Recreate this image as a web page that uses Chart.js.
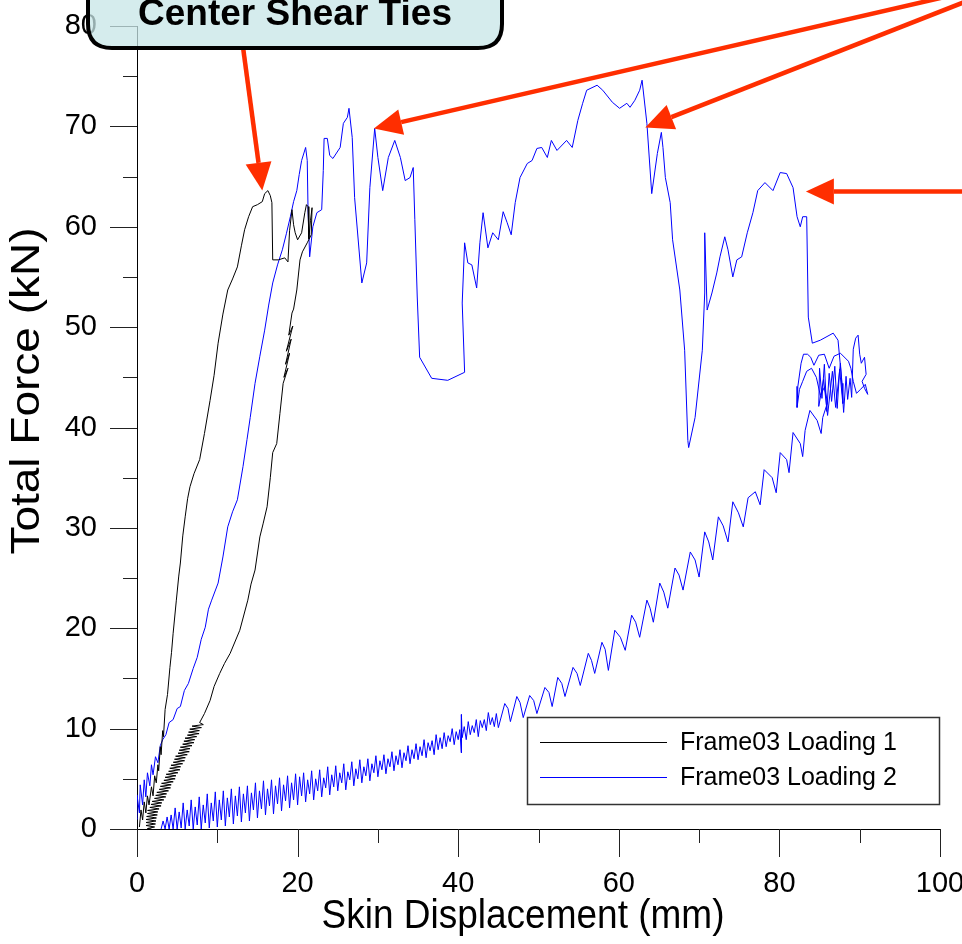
<!DOCTYPE html>
<html>
<head>
<meta charset="utf-8">
<title>Frame03 skin displacement</title>
<script src="https://cdn.jsdelivr.net/npm/chart.js@4.4.1/dist/chart.umd.min.js"></script>
<style>
  html, body { margin: 0; padding: 0; background: #fff; }
  #wrap { width: 962px; height: 944px; }
</style>
</head>
<body>
<div id="wrap"><canvas id="forceChart" width="962" height="944"></canvas></div>
<script>
// displacement (mm), force (kN) pairs in recording order

const loading1 = [
  [0.3,0.2],[0.5,1.9],[0.7,0.9],[0.9,2.7],[1.1,1.6],[1.3,3.3],[1.5,2.4],[1.8,4.2],[2.0,3.3],[2.2,5.3],
  [2.4,4.6],[2.6,6.4],[2.7,5.8],[2.9,8.2],[3.0,7.4],[3.2,9.8],[3.3,9.2],[3.5,11.9],[3.8,13.4],[4.1,16.1],
  [4.3,17.6],[4.5,19.5],[4.9,22.8],[5.2,25.2],[5.4,26.5],[5.7,29.2],[6.0,31.1],[6.3,32.9],[6.6,34.1],[7.1,35.4],
  [7.8,36.8],[8.4,39.4],[9.1,42.7],[9.6,45.2],[10.1,48.4],[10.7,51.3],[11.3,53.7],[11.9,54.8],[12.5,56.0],[13.0,58.1],
  [13.4,59.7],[13.9,61.0],[14.4,62.0],[15.0,62.2],[15.6,62.5],[15.9,63.3],[16.3,63.6],[16.6,63.1],[16.8,62.4],[16.9,56.7],
  [17.6,56.7],[18.4,56.9],[18.8,56.5],[19.0,59.6],[19.3,61.7],[19.5,60.2],[19.7,59.4],[20.0,58.7],[20.5,59.4],[20.9,61.4],
  [21.1,62.2],[21.3,62.0],[21.4,58.8],[21.6,60.6],[21.8,61.9],[21.7,59.2],[21.2,58.4],[20.6,57.5],[20.3,56.7],[19.9,53.7],
  [19.5,51.8],[19.3,51.4],[18.9,49.2],[19.4,50.1],[18.6,47.6],[19.2,48.8],[18.5,46.3],[19.0,47.4],[18.3,45.0],[18.8,45.9],
  [18.2,44.4],[17.8,41.4],[17.4,38.4],[16.9,37.5],[16.6,35.0],[16.2,32.1],[15.7,30.4],[15.3,29.1],[14.7,25.8],[14.2,24.4],
  [13.8,22.8],[12.8,19.8],[11.6,17.5],[10.9,16.5],[10.3,15.5],[9.6,14.2],[9.1,12.8],[8.4,11.5],[7.8,10.6],
  [8.26,10.40],[6.86,10.25],[8.02,10.10],[6.57,9.95],[7.77,9.80],[6.42,9.65],[7.73,9.50],[6.28,9.35],[7.43,9.20],[5.98,9.05],
  [7.19,8.90],[5.84,8.75],[7.09,8.60],[5.69,8.45],[6.85,8.30],[5.40,8.15],[6.60,8.00],[5.25,7.85],[6.51,7.70],[5.11,7.55],
  [6.26,7.40],[4.81,7.25],[6.02,7.10],[4.67,6.95],[5.92,6.80],[4.52,6.65],[5.68,6.50],[4.23,6.35],[5.43,6.20],[4.08,6.05],
  [5.34,5.90],[3.94,5.75],[5.09,5.60],[3.64,5.45],[4.85,5.30],[3.50,5.15],[4.75,5.00],[3.35,4.85],[4.51,4.70],[3.06,4.55],
  [4.26,4.40],[2.91,4.25],[4.17,4.10],[2.77,3.95],[3.92,3.80],[2.47,3.65],[3.68,3.50],[2.33,3.35],[3.58,3.20],[2.18,3.05],
  [3.34,2.90],[1.89,2.75],[3.09,2.60],[1.74,2.45],[3.00,2.30],[1.60,2.15],[2.75,2.00],[1.32,1.85],[2.59,1.70],[1.31,1.55],
  [2.53,1.40],[1.20,1.25],[2.42,1.10],[1.14,0.95],[2.36,0.80],[1.13,0.65],[2.30,0.50],[1.12,0.35],[2.19,0.20],[1.30,0.05],
  [1.80,0.00]
];

const loading2Rise = [
  [0.1,1.0],[0.0,3.4],[0.3,1.6],[0.4,4.4],[0.7,2.4],[0.9,4.9],[1.1,3.2],[1.3,5.6],[1.6,4.3],[1.8,6.4],
  [2.0,5.4],[2.3,7.2],[2.6,6.6],[2.9,8.3],[3.2,8.9],[3.6,9.4],[4.0,10.6],[4.5,10.9],[5.0,12.0],[5.4,12.2],
  [5.9,13.8],[6.4,14.5],[7.0,16.0],[7.5,17.1],[8.0,18.9],[8.5,20.1],[8.9,21.9],[9.3,22.8],[10.1,24.5],[10.7,27.1],
  [11.3,30.1],[11.9,31.6],[12.5,32.8],[13.2,36.1],[13.7,38.8],[14.1,41.0],[14.7,44.4],[15.3,47.1],[15.9,49.7],[16.4,52.2],
  [16.9,54.4],[17.5,56.2],[18.1,57.7],[18.6,59.3],[19.1,61.0],[19.5,62.5],[19.9,63.6],[20.2,65.2],[20.5,66.6],[21.0,67.9],
  [21.2,66.6],[21.3,61.7],[21.5,57.0]
];

const loading2Peaks = [
  [21.9,60.0],[22.4,61.4],[23.0,61.7],[23.2,65.6],[23.3,68.8],[23.7,68.8],[24.0,67.1],[24.4,66.8],[25.3,67.9],[25.7,70.3],
  [26.2,70.9],[26.4,71.8],[26.8,68.9],[27.1,62.9],[28.0,54.4],[28.6,56.4],[29.0,63.9],[29.6,69.8],[30.0,66.9],[30.6,63.6],
  [31.3,66.9],[32.1,68.6],[32.8,66.9],[33.4,64.6],[34.0,64.9],[34.4,65.9],[34.6,60.7],[34.9,53.0],[35.2,47.0],[36.7,44.9],
  [38.7,44.7],[40.8,45.5],[40.5,52.4],[40.8,58.4],[41.2,56.4],[41.7,56.2],[42.3,53.9],[42.7,58.4],[43.1,61.4],[43.7,57.9],
  [44.3,59.4],[45.0,58.7],[45.6,61.5],[46.1,60.4],[46.6,59.2],[47.1,62.4],[47.7,64.9],[48.6,66.3],[49.2,66.6],[49.8,67.8],
  [50.4,67.9],[51.1,66.9],[51.6,68.6],[52.3,67.6],[53.5,68.6],[54.2,67.9],[54.9,70.6],[55.5,72.3],[56.0,73.6],[57.3,74.1],
  [58.0,73.6],[59.2,72.4],[60.1,71.8],[61.0,72.3],[61.4,71.9],[62.0,72.6],[62.6,73.6],[62.9,74.6],[63.5,70.3],[64.1,63.3],
  [64.8,67.3],[65.3,69.4],[65.5,67.9],[65.8,64.9],[66.4,62.4],[66.7,58.7],[67.6,53.7],[68.2,47.7],[68.6,38.7],[68.7,38.0],
  [69.5,41.0],[70.4,47.7],[70.7,53.4],[70.7,59.4],[71.0,51.7],[71.6,53.4],[72.2,55.4],[72.6,57.0],[73.2,59.0],[73.6,57.7],
  [74.2,55.0],[74.7,56.7],[75.3,57.0],[76.0,59.4],[76.7,61.4],[77.3,63.6],[78.2,64.4],[79.2,63.6],[80.1,65.4],[80.9,65.3],
  [81.7,63.9],[82.2,61.0],[82.6,60.0],[82.9,61.0],[83.4,61.0],[83.6,51.0],[84.1,48.4],[85.1,48.7],[86.7,49.4],[87.3,48.7],
  [87.8,44.4],[87.9,42.4]
];

const loading2Loops = [
  [87.5,45.8],[87.2,41.9],[86.9,46.1],[86.5,42.6],[86.2,45.4],[85.9,41.6],[85.6,46.3],[85.3,42.9],[85.0,45.9],[84.9,42.1],
  [85.5,44.8],[86.0,41.2],[86.6,45.6],[87.0,42.0],[87.6,46.4],[88.0,41.5],[88.3,45.1],[88.5,42.8],[88.8,44.9],[89.0,43.0],
  [89.2,47.8],[89.5,48.9],[89.8,49.2],[90.0,47.3],[90.2,46.4],[90.6,47.0],[90.8,45.3],[90.3,44.6],[90.6,43.9],[91.0,43.3],
  [90.7,44.3],[90.1,43.8],[89.6,43.4],[89.2,44.6],[88.9,45.9],[88.6,46.6],[87.6,47.4],[86.8,47.1],[86.2,45.9],[85.6,47.3],
  [84.9,47.2],[84.3,46.2],[83.9,47.0],[83.5,47.3],[83.0,47.3],[82.7,46.4],[82.3,44.1],[82.2,42.0],[82.5,43.8],[82.9,44.6],
  [83.4,45.6],[84.0,45.9],[84.6,45.0],[85.1,43.2],[85.6,44.0],[86.0,42.5]
];

const loading2Return = [
  [85.4,41.0],[85.2,39.4],[84.7,40.7],[83.8,41.7],[83.2,39.7],[82.9,37.1],[82.6,38.4],[81.7,39.5],[81.2,35.5],[80.9,36.8],
  [80.1,37.5],[79.6,33.5],[79.1,35.0],[78.1,35.8],[77.6,32.3],[77.0,33.6],[76.1,33.0],[75.5,30.1],[74.9,31.5],[74.2,32.6],
  [73.6,28.6],[73.0,30.2],[72.4,31.1],[71.7,26.8],[71.2,28.6],[70.7,29.6],[70.0,25.1],[69.5,26.8],[68.9,27.6],[68.0,23.8],
  [67.5,25.3],[67.0,26.0],[66.1,22.0],[65.6,23.6],[65.1,24.5],[64.3,20.6],[63.9,22.0],[63.5,22.8],[62.6,19.1],[62.1,20.6],
  [61.6,21.3],[60.8,17.8],[60.2,19.1],[59.5,19.8],[58.7,15.8],[58.3,17.9],[57.9,18.6],[57.0,15.5],[56.6,16.8],[56.2,17.5],
  [55.2,14.3],[54.8,15.5],[54.3,16.1],[53.3,13.2],[52.9,14.5],[52.4,15.1],[51.7,12.2],[51.3,13.6],[50.8,14.1],[49.8,11.5],
  [49.4,12.8],[48.9,13.3],[48.1,11.1],[47.7,12.6],[47.3,13.2],[46.5,10.7],[46.2,12.0],[45.8,12.5],[45.0,10.1],
  [44.75,11.5],[44.5,10.2],[44.25,11.1],[44.0,10.4],[43.75,11.6],[43.5,9.8],[43.25,10.9],[43.0,10.1],[42.75,10.8],[42.5,9.2],
  [42.25,10.9],[42.0,9.6],[41.75,10.3],[41.5,9.4],[41.25,10.7],[41.0,8.9],[40.75,10.2],[40.5,9.1],[40.4,11.4],[40.4,7.6],
  [40.2,9.9],[40.0,8.9],[39.75,9.7],[39.5,8.4],[39.25,10.0],[39.0,8.7],[38.75,9.3],[38.5,8.2],[38.25,9.6],[38.0,8.0],
  [37.75,9.1],[37.5,7.9],[37.25,9.4],[37.0,7.4],[36.75,8.8],[36.5,7.8],[36.25,8.6],[36.0,7.1],[35.75,8.9],[35.5,7.3],
  [35.25,8.2],[35.0,6.9],[34.75,8.5],[34.5,7.0],[34.25,7.9],[34.0,6.5],[33.75,8.3],[33.5,6.8],[33.25,7.6],[33.0,6.1],
  [32.75,7.9],[32.5,6.4],[32.25,7.3],[32.0,5.8],[31.75,7.7],[31.5,6.2],[31.25,7.0],[31.0,5.5],[30.75,7.4],[30.5,5.9],
  [30.25,6.8],[30.0,5.2],[29.75,7.3],[29.5,5.6],[29.25,6.5],[29.0,4.8],[28.75,7.0],[28.5,5.3],[28.25,6.2],[28.0,4.6],
  [27.75,6.9],[27.5,5.0],[27.25,6.0],[27.0,4.3],[26.75,6.7],[26.5,4.9],[26.25,5.7],[26.0,3.9],[25.75,6.5],[25.5,4.6],
  [25.25,5.6],[25.0,3.8],[24.75,6.3],[24.5,4.2],[24.25,5.4],[24.0,3.4],[23.75,6.2],[23.5,4.1],[23.25,5.1],[23.0,3.2],
  [22.75,5.9],[22.5,3.8],[22.25,5.0],[22.0,2.9],[21.75,5.8],[21.5,3.5],[21.25,4.9],[21.0,2.7],[20.75,5.6],[20.5,3.3],
  [20.25,5.2],[20.0,2.4],[19.75,5.5],[19.5,2.9],[19.25,4.6],[19.0,2.1],[18.75,5.3],[18.5,2.8],[18.25,4.4],[18.0,1.8],
  [17.75,5.1],[17.5,2.5],[17.25,4.3],[17.0,1.5],[16.75,4.9],[16.5,2.3],[16.25,4.0],[16.0,1.4],[15.75,4.8],[15.5,2.0],
  [15.25,3.8],[15.0,1.1],[14.75,4.6],[14.5,1.9],[14.25,3.6],[14.0,0.8],[13.75,4.3],[13.5,1.6],[13.25,3.5],[13.0,0.7],
  [12.75,4.2],[12.5,1.3],[12.25,3.3],[12.0,0.5],[11.75,4.0],[11.5,1.2],[11.25,3.1],[11.0,0.3],[10.75,3.8],[10.5,0.9],
  [10.25,2.9],[10.0,0.2],[9.75,3.7],[9.5,0.8],[9.25,2.6],[9.0,0.1],[8.75,3.5],[8.5,0.6],[8.25,2.4],[8.0,0.0],
  [7.75,3.2],[7.5,0.4],[7.25,2.2],[7.0,0.0],[6.75,2.9],[6.5,0.3],[6.25,1.9],[6.0,0.0],[5.75,2.6],[5.5,0.1],
  [5.25,1.7],[5.0,0.0],[4.75,2.1],[4.5,0.0],[4.25,1.4],[4.0,0.0],[3.75,1.2],[3.5,0.0],[3.25,0.8],[3.0,0.0]
];

const loading2 = loading2Rise.concat(loading2Peaks, loading2Loops, loading2Return);

const seriesNames = ['Frame03 Loading 1', 'Frame03 Loading 2'];
const seriesColors = ['#000000', '#0000ff'];

const xMajorTicks = [0, 20, 40, 60, 80, 100];
const xMinorTicks = [10, 30, 50, 70, 90];
const yMajorTicks = [0, 10, 20, 30, 40, 50, 60, 70, 80];
const yMinorTicks = [5, 15, 25, 35, 45, 55, 65, 75];

// callout arrows: [tailX, tailY, tipX, tipY] in mm / kN
const calloutArrows = [
  [13.2, 77.9, 15.6, 63.6],
  [105, 83.7, 29.5, 69.8],
  [105, 83.0, 63.3, 69.9],
  [105, 63.5, 83.3, 63.5]
];
const calloutText = 'Center Shear Ties';

const FONT = "'Liberation Sans', Arial, sans-serif";

const toPoints = arr => arr.map(p => ({x: p[0], y: p[1]}));

function drawArrow(ctx, x0, y0, x1, y1) {
  const ang = Math.atan2(y1 - y0, x1 - x0);
  const headLen = 28, headHalf = 13;
  const bx = x1 - headLen * Math.cos(ang), by = y1 - headLen * Math.sin(ang);
  ctx.beginPath();
  ctx.moveTo(x0, y0);
  ctx.lineTo(bx, by);
  ctx.stroke();
  ctx.beginPath();
  ctx.moveTo(x1, y1);
  ctx.lineTo(bx + headHalf * Math.sin(ang), by - headHalf * Math.cos(ang));
  ctx.lineTo(bx - headHalf * Math.sin(ang), by + headHalf * Math.cos(ang));
  ctx.closePath();
  ctx.fill();
}

function roundRect(ctx, x, y, w, h, r) {
  ctx.beginPath();
  ctx.moveTo(x + r, y);
  ctx.lineTo(x + w - r, y);
  ctx.quadraticCurveTo(x + w, y, x + w, y + r);
  ctx.lineTo(x + w, y + h - r);
  ctx.quadraticCurveTo(x + w, y + h, x + w - r, y + h);
  ctx.lineTo(x + r, y + h);
  ctx.quadraticCurveTo(x, y + h, x, y + h - r);
  ctx.lineTo(x, y + r);
  ctx.quadraticCurveTo(x, y, x + r, y);
  ctx.closePath();
}

const plotDecor = {
  id: 'plotDecor',
  afterDraw(chart) {
    const {ctx, chartArea} = chart;
    const xs = chart.scales.x, ys = chart.scales.y;
    const L = chartArea.left, B = chartArea.bottom;

    // tick marks outside the frame
    ctx.save();
    ctx.strokeStyle = '#222';
    ctx.lineWidth = 1;
    ctx.beginPath();
    yMajorTicks.forEach(v => { const p = Math.round(ys.getPixelForValue(v)) + 0.5; ctx.moveTo(L - 27, p); ctx.lineTo(L, p); });
    yMinorTicks.forEach(v => { const p = Math.round(ys.getPixelForValue(v)) + 0.5; ctx.moveTo(L - 14, p); ctx.lineTo(L, p); });
    xMajorTicks.forEach(v => { const p = Math.round(xs.getPixelForValue(v)) + 0.5; ctx.moveTo(p, B); ctx.lineTo(p, B + 28); });
    xMinorTicks.forEach(v => { const p = Math.round(xs.getPixelForValue(v)) + 0.5; ctx.moveTo(p, B); ctx.lineTo(p, B + 14); });
    ctx.stroke();
    ctx.restore();

    // axis titles
    ctx.save();
    ctx.fillStyle = '#000';
    ctx.textAlign = 'center';
    ctx.textBaseline = 'middle';
    ctx.translate(523, 917);
    ctx.scale(0.925, 1);
    ctx.font = '40px ' + FONT;
    ctx.fillText('Skin Displacement (mm)', 0, 0);
    ctx.restore();

    ctx.save();
    ctx.fillStyle = '#000';
    ctx.textAlign = 'center';
    ctx.textBaseline = 'middle';
    ctx.translate(28, 391);
    ctx.rotate(-Math.PI / 2);
    ctx.scale(1, 0.9);
    ctx.font = '46px ' + FONT;
    ctx.fillText('Total Force (kN)', 0, 0);
    ctx.restore();

    // legend box
    ctx.save();
    ctx.fillStyle = '#fff';
    ctx.fillRect(527, 717, 413, 88);
    ctx.strokeStyle = '#333';
    ctx.lineWidth = 1.5;
    ctx.strokeRect(527.5, 717.5, 412, 87);
    ctx.font = '25px ' + FONT;
    ctx.textBaseline = 'middle';
    chart.data.datasets.forEach((ds, i) => {
      const yy = 742 + i * 35;
      ctx.strokeStyle = ds.borderColor;
      ctx.lineWidth = 1;
      ctx.beginPath();
      ctx.moveTo(540, yy + 0.5);
      ctx.lineTo(667, yy + 0.5);
      ctx.stroke();
      ctx.fillStyle = '#000';
      ctx.fillText(ds.label, 680, yy + 1);
    });
    ctx.restore();

    // callout label and arrows
    ctx.save();
    ctx.strokeStyle = '#ff2e00';
    ctx.fillStyle = '#ff2e00';
    ctx.lineWidth = 4.5;
    ctx.lineCap = 'butt';
    calloutArrows.forEach(a => {
      drawArrow(ctx, xs.getPixelForValue(a[0]), ys.getPixelForValue(a[1]),
                     xs.getPixelForValue(a[2]), ys.getPixelForValue(a[3]));
    });
    ctx.restore();

    ctx.save();
    roundRect(ctx, 88, -40, 414, 88, 24);
    ctx.fillStyle = 'rgba(199, 230, 231, 0.75)';
    ctx.fill();
    ctx.lineWidth = 4;
    ctx.strokeStyle = '#000';
    ctx.stroke();
    ctx.fillStyle = '#000';
    ctx.font = 'bold 37px ' + FONT;
    ctx.textAlign = 'center';
    ctx.textBaseline = 'alphabetic';
    ctx.fillText(calloutText, 295, 25);
    ctx.restore();
  }
};

const ctx = document.getElementById('forceChart').getContext('2d');
new Chart(ctx, {
  type: 'scatter',
  data: {
    datasets: [
      {label: seriesNames[0], data: toPoints(loading1), borderColor: seriesColors[0], backgroundColor: seriesColors[0]},
      {label: seriesNames[1], data: toPoints(loading2), borderColor: seriesColors[1], backgroundColor: seriesColors[1]}
    ]
  },
  options: {
    responsive: false,
    animation: false,
    devicePixelRatio: 1,
    showLine: true,
    elements: {
      point: {radius: 0, hoverRadius: 0},
      line: {borderWidth: 1, tension: 0}
    },
    layout: {padding: {top: 26, right: 22, left: 0, bottom: 0}},
    plugins: {legend: {display: false}, tooltip: {enabled: false}},
    scales: {
      x: {
        type: 'linear', min: 0, max: 100,
        grid: {display: false, drawTicks: false},
        border: {display: true, color: '#000', width: 1},
        ticks: {stepSize: 20, padding: 38, color: '#000', font: {family: FONT, size: 29}},
        afterFit(s) { s.height = 115; s.paddingLeft = 0; s.paddingRight = 0; }
      },
      y: {
        type: 'linear', min: 0, max: 80,
        grid: {display: false, drawTicks: false},
        border: {display: true, color: '#000', width: 1},
        ticks: {stepSize: 10, padding: 40, color: '#000', font: {family: FONT, size: 29}},
        afterFit(s) { s.width = 137; s.paddingTop = 0; s.paddingBottom = 0; }
      }
    }
  },
  plugins: [plotDecor]
});
</script>
</body>
</html>
